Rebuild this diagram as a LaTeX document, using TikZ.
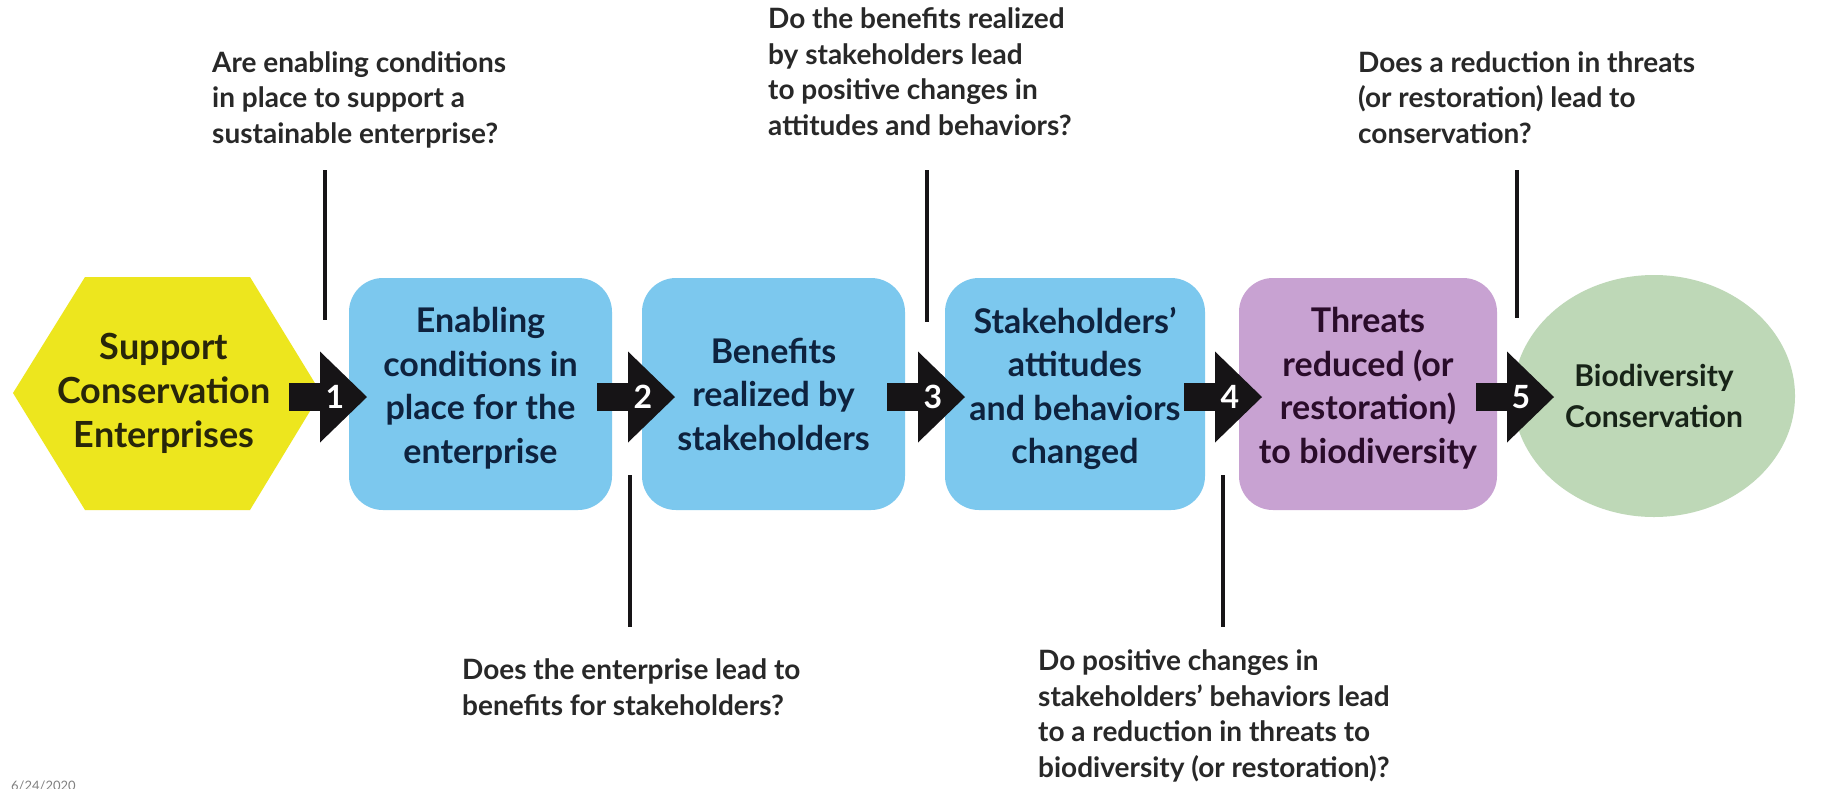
\documentclass[tikz,border=0pt]{standalone}
\usepackage{fontspec}
\setmainfont{Lato}
\usetikzlibrary{shapes.geometric}
\definecolor{hexyellow}{RGB}{237,230,30}
\definecolor{boxblue}{RGB}{124,200,238}
\definecolor{boxpurple}{RGB}{200,162,210}
\definecolor{boxgreen}{RGB}{190,216,183}
\definecolor{arrowc}{RGB}{22,20,22}
\definecolor{qgray}{RGB}{40,40,40}
\definecolor{navytext}{RGB}{14,34,62}
\definecolor{olivetext}{RGB}{40,38,10}
\definecolor{plumtext}{RGB}{42,12,42}
\definecolor{greentext}{RGB}{24,36,24}
\newcommand\myqfont{\fontsize{28}{35.5}\selectfont\bfseries}
\newcommand\myboxfont{\fontsize{34}{43.5}\selectfont\bfseries}
\newcommand\myhexfont{\fontsize{36}{44}\selectfont\bfseries}
\newcommand\myellfont{\fontsize{30}{41}\selectfont\bfseries}
\newcommand\mydigitfont{\fontsize{32}{32}\selectfont\bfseries}
\begin{document}
\begin{tikzpicture}[x=1pt,y=-1pt,
  stagebox/.style={rounded corners=34pt, minimum width=263pt, minimum height=232pt, inner sep=0pt, align=center, font=\myboxfont},
  fourline/.style={text depth=17pt},
  qtext/.style={anchor=base west, align=left, inner sep=0pt, font=\myqfont, text=qgray},
  qline/.style={draw=arrowc, line width=4pt},
  digit/.style={text=white, font=\mydigitfont, inner sep=0pt},
  blockarrow/.pic={
    \fill[arrowc] (-31,-14) rectangle (2,14);
    \fill[arrowc] (0,-45.5) -- (47,0) -- (0,45.5) -- cycle;
  }]
\useasboundingbox (0,0) rectangle (1839,788);
\fill[white] (0,0) rectangle (1839,788);

% hexagon
\coordinate (h1) at (13,393);
\coordinate (h2) at (85,277);
\coordinate (h3) at (250,277);
\coordinate (h4) at (321,393);
\coordinate (h5) at (250,510);
\coordinate (h6) at (85,510);
\fill[hexyellow] (h1) -- (h2) -- (h3) -- (h4) -- (h5) -- (h6) -- cycle;
\node[align=center, font=\myhexfont, text=olivetext, inner sep=0pt] (hex) at (164,393) {Support\\Conservation\\Enterprises};

% stage boxes
\node[stagebox, fourline, fill=boxblue, text=navytext] (b1) at (480.5,394) {Enabling\\conditions in\\place for the\\enterprise};
\node[stagebox, fill=boxblue, text=navytext] (b2) at (773.5,394) {Benefits\\realized by\\stakeholders};
\node[stagebox, fourline, fill=boxblue, text=navytext, minimum width=260pt] (b3) at (1075,394) {Stakeholders’\\attitudes\\and behaviors\\changed};
\node[stagebox, fourline, fill=boxpurple, text=plumtext, minimum width=258pt] (b4) at (1368,394) {Threats\\reduced (or\\restoration)\\to biodiversity};
\node[ellipse, fill=boxgreen, minimum width=282pt, minimum height=242pt, inner sep=0pt, align=center, font=\myellfont, text=greentext] (bio) at (1654,396) {Biodiversity\\Conservation};

% block arrows
\pic at (320,397) {blockarrow};
\pic at (628,397) {blockarrow};
\pic at (918,397) {blockarrow};
\pic at (1215,397) {blockarrow};
\pic at (1507,397) {blockarrow};
\node[digit] (d1) at (335,397) {1};
\node[digit] (d2) at (643,397) {2};
\node[digit] (d3) at (933,397) {3};
\node[digit] (d4) at (1230,397) {4};
\node[digit] (d5) at (1521,397) {5};

% question lines
\coordinate (t1a) at (325,170); \coordinate (t1b) at (325,320);
\coordinate (t2a) at (630,475); \coordinate (t2b) at (630,627);
\coordinate (t3a) at (927,170); \coordinate (t3b) at (927,322);
\coordinate (t4a) at (1223,475); \coordinate (t4b) at (1223,627);
\coordinate (t5a) at (1517,170); \coordinate (t5b) at (1517,318);
\draw[qline] (t1a) -- (t1b);
\draw[qline] (t2a) -- (t2b);
\draw[qline] (t3a) -- (t3b);
\draw[qline] (t4a) -- (t4b);
\draw[qline] (t5a) -- (t5b);

% questions (anchored at the baseline of the last line)
\node[qtext] (q1) at (212,143) {Are enabling conditions\\in place to support a\\sustainable enterprise?};
\node[qtext] (q3) at (768,135) {Do the benefits realized\\by stakeholders lead\\to positive changes in\\attitudes and behaviors?};
\node[qtext] (q5) at (1358,143) {Does a reduction in threats\\(or restoration) lead to\\conservation?};
\node[qtext] (q2) at (462,715) {Does the enterprise lead to\\benefits for stakeholders?};
\node[qtext] (q4) at (1038,777) {Do positive changes in\\stakeholders’ behaviors lead\\to a reduction in threats to\\biodiversity (or restoration)?};

% date (cut off at the lower edge, as in the reference)
\node[anchor=north west, inner sep=0pt, font=\fontsize{13}{13}\selectfont, text=gray] (date) at (11,781) {6/24/2020};
\end{tikzpicture}
\end{document}
